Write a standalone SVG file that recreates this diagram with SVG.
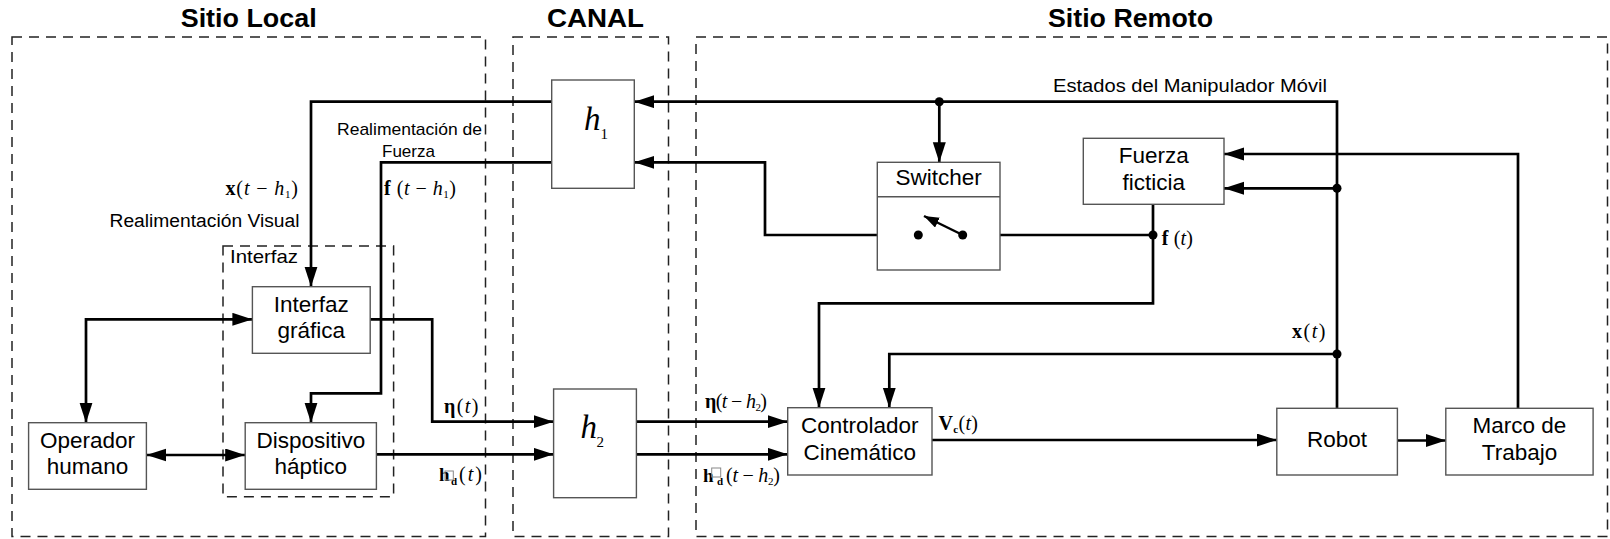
<svg xmlns="http://www.w3.org/2000/svg" width="1610" height="539" viewBox="0 0 1610 539">
<style>
.bg{fill:#fff}
.reg{fill:none;stroke:#222;stroke-width:1.5;stroke-dasharray:10 7}
.box{fill:#fff;stroke:#555;stroke-width:1.4}
.c{fill:none;stroke:#000;stroke-width:2.7}
.dot{fill:#000}
.title{font-family:"Liberation Sans",Arial,sans-serif;font-weight:bold;font-size:26px;fill:#000;text-anchor:middle}
.lbl{font-family:"Liberation Sans",Arial,sans-serif;font-size:22.5px;fill:#000;text-anchor:middle}
.sm{font-family:"Liberation Sans",Arial,sans-serif;font-size:18px;fill:#000}
.m{font-family:"Liberation Serif","Times New Roman",serif;font-size:20px;fill:#000}
.b{font-weight:bold}
.i{font-style:italic}
.tofu{fill:none;stroke:#888;stroke-width:1}
</style>
<defs>
<marker id="ar" markerUnits="userSpaceOnUse" markerWidth="20" markerHeight="14" refX="20" refY="6.5" orient="auto-start-reverse">
<path d="M0,0 L20,6.5 L0,13 z" fill="#000"/>
</marker>
<marker id="ars" markerUnits="userSpaceOnUse" markerWidth="15" markerHeight="12" refX="15" refY="5.5" orient="auto">
<path d="M0,0 L15,5.5 L0,11 z" fill="#000"/>
</marker>
</defs>
<rect class="bg" x="0" y="0" width="1610" height="539"/>

<g id="regions">
<rect class="reg" x="12" y="37" width="473.5" height="499.5"/>
<rect class="reg" x="513" y="37" width="155.5" height="499.5"/>
<rect class="reg" x="696" y="37" width="911.5" height="499.5"/>
<rect class="reg" x="223" y="246" width="170.6" height="250.7"/>
<text class="title" x="248.7" y="27" textLength="136" lengthAdjust="spacingAndGlyphs">Sitio Local</text>
<text class="title" x="595.5" y="27" textLength="97" lengthAdjust="spacingAndGlyphs">CANAL</text>
<text class="title" x="1130.5" y="27" textLength="165" lengthAdjust="spacingAndGlyphs">Sitio Remoto</text>
<text class="sm" x="230" y="263.3" style="font-size:19px" textLength="68" lengthAdjust="spacingAndGlyphs">Interfaz</text>
</g>

<g id="connectors">
<path class="c" d="M1337,408.3 L1337,101.7 L634.3,101.7" marker-end="url(#ar)"/>
<path class="c" d="M939.3,101.7 L939.3,162.3" marker-end="url(#ar)"/>
<path class="c" d="M551.7,101.7 L311,101.7 L311,286.7" marker-end="url(#ar)"/>
<path class="c" d="M551.7,162.3 L381,162.3 L381,393.3 L311,393.3 L311,422.7" marker-end="url(#ar)"/>
<path class="c" d="M918.3,235 L765,235 L765,162.3 L634.3,162.3" marker-end="url(#ar)"/>
<path class="c" d="M962.7,235 L1153,235"/>
<path class="c" d="M1153,204.3 L1153,303.3 L819,303.3 L819,407.7" marker-end="url(#ar)"/>
<path class="c" d="M1337,354 L889.3,354 L889.3,407.7" marker-end="url(#ar)"/>
<path class="c" d="M1337,188.3 L1224,188.3" marker-end="url(#ar)"/>
<path class="c" d="M1518,408.3 L1518,154 L1224,154" marker-end="url(#ar)"/>
<path class="c" d="M1397.4,440.5 L1445.8,440.5" marker-end="url(#ar)"/>
<path class="c" d="M932,440 L1276.8,440" marker-end="url(#ar)"/>
<path class="c" d="M636.4,421.7 L787.7,421.7" marker-end="url(#ar)"/>
<path class="c" d="M636.4,454.3 L787.7,454.3" marker-end="url(#ar)"/>
<path class="c" d="M370.2,319.3 L432.2,319.3 L432.2,421.7 L553.6,421.7" marker-end="url(#ar)"/>
<path class="c" d="M376.4,454.3 L553.6,454.3" marker-end="url(#ar)"/>
<path class="c" d="M252.4,319.3 L86,319.3 L86,422.7" marker-start="url(#ar)" marker-end="url(#ar)"/>
<path class="c" d="M146.4,455 L245.2,455" marker-start="url(#ar)" marker-end="url(#ar)"/>
<circle class="dot" cx="939.3" cy="101.7" r="4.5"/>
<circle class="dot" cx="1337" cy="188.3" r="4.5"/>
<circle class="dot" cx="1337" cy="354" r="4.5"/>
<circle class="dot" cx="1153" cy="235" r="4.5"/>
</g>

<g id="labels">
<text class="sm" x="1053" y="92" textLength="274" lengthAdjust="spacingAndGlyphs">Estados del Manipulador Móvil</text>
<text class="sm" x="337" y="135" style="font-size:17px" textLength="145" lengthAdjust="spacingAndGlyphs">Realimentación de</text>
<text class="sm" x="382" y="156.7" style="font-size:17px" textLength="53" lengthAdjust="spacingAndGlyphs">Fuerza</text>
<text class="sm" x="109.5" y="226.7" textLength="190" lengthAdjust="spacingAndGlyphs">Realimentación Visual</text>
<text class="m" x="225.5" y="195" textLength="72.5"><tspan class="b">x</tspan>(<tspan class="i">t</tspan> − <tspan class="i">h</tspan><tspan style="font-size:11px" dy="3">1</tspan><tspan dy="-3">)</tspan></text>
<text class="m" x="384" y="195" textLength="72"><tspan class="b">f</tspan> (<tspan class="i">t</tspan> − <tspan class="i">h</tspan><tspan style="font-size:11px" dy="3">1</tspan><tspan dy="-3">)</tspan></text>
<text class="m" x="444" y="413" textLength="34.3"><tspan class="b">η</tspan>(<tspan class="i">t</tspan>)</text>
<text class="m b" x="439" y="481" style="font-size:19px">h</text>
<rect class="tofu" x="445" y="471" width="8.3" height="9"/>
<text class="m b" x="451" y="484.5" style="font-size:11px">d</text>
<text class="m" x="459" y="481" textLength="23">(<tspan class="i">t</tspan>)</text>
<text class="m" x="705" y="407.5" textLength="62"><tspan class="b">η</tspan>(<tspan class="i">t</tspan> − <tspan class="i">h</tspan><tspan style="font-size:11px" dy="3">2</tspan><tspan dy="-3">)</tspan></text>
<text class="m b" x="703" y="481.5" style="font-size:19px">h</text>
<rect class="tofu" x="711.7" y="468" width="9" height="9"/>
<text class="m b" x="717" y="485" style="font-size:11px">d</text>
<text class="m" x="726" y="481.5" textLength="54">(<tspan class="i">t</tspan> − <tspan class="i">h</tspan><tspan style="font-size:11px" dy="3">2</tspan><tspan dy="-3">)</tspan></text>
<text class="m" x="938.6" y="430" textLength="39.4"><tspan class="b">V</tspan><tspan class="b" style="font-size:11px" dy="3">c</tspan><tspan dy="-3">(</tspan><tspan class="i">t</tspan>)</text>
<text class="m" x="1292" y="338.3" textLength="33.5"><tspan class="b">x</tspan>(<tspan class="i">t</tspan>)</text>
<text class="m" x="1161.7" y="245" textLength="31.3"><tspan class="b">f</tspan> (<tspan class="i">t</tspan>)</text>
</g>

<g id="h1">
<rect class="box" x="551.7" y="80" width="82.6" height="108.3"/>
<text class="m i" x="584" y="130.3" style="font-size:33px">h</text>
<text class="m" x="600.5" y="139.3" style="font-size:15px">1</text>
</g>

<g id="h2">
<rect class="box" x="553.6" y="389" width="82.8" height="108.7"/>
<text class="m i" x="580.5" y="438.3" style="font-size:33px">h</text>
<text class="m" x="596.5" y="447.3" style="font-size:15px">2</text>
</g>

<g id="interfaz-grafica">
<rect class="box" x="252.4" y="286.7" width="117.8" height="66.6"/>
<text class="lbl" x="311.3" y="311.7">Interfaz</text>
<text class="lbl" x="311.3" y="338.3">gráfica</text>
</g>

<g id="dispositivo-haptico">
<rect class="box" x="245.2" y="422.7" width="131.2" height="66.6"/>
<text class="lbl" x="310.8" y="448.3">Dispositivo</text>
<text class="lbl" x="310.8" y="474">háptico</text>
</g>

<g id="operador-humano">
<rect class="box" x="28.6" y="422.7" width="117.8" height="66.6"/>
<text class="lbl" x="87.5" y="448.3">Operador</text>
<text class="lbl" x="87.5" y="474">humano</text>
</g>

<g id="switcher">
<rect class="box" x="877.3" y="162.3" width="122.7" height="107.7"/>
<line x1="877.3" y1="196.7" x2="1000" y2="196.7" stroke="#555" stroke-width="1.4"/>
<text class="lbl" x="938.7" y="185">Switcher</text>
<line x1="962.7" y1="235" x2="924" y2="216" stroke="#000" stroke-width="2.5" marker-end="url(#ars)"/>
<circle class="dot" cx="918.3" cy="235" r="4.5"/>
<circle class="dot" cx="962.7" cy="235" r="4.5"/>
</g>

<g id="fuerza-ficticia">
<rect class="box" x="1083.3" y="138.3" width="140.7" height="66"/>
<text class="lbl" x="1153.7" y="163.3">Fuerza</text>
<text class="lbl" x="1153.7" y="190">ficticia</text>
</g>

<g id="controlador">
<rect class="box" x="787.7" y="407.7" width="144.3" height="67.3"/>
<text class="lbl" x="859.8" y="433.3">Controlador</text>
<text class="lbl" x="859.8" y="460">Cinemático</text>
</g>

<g id="robot">
<rect class="box" x="1276.8" y="408.3" width="120.6" height="66.7"/>
<text class="lbl" x="1337" y="446.7">Robot</text>
</g>

<g id="marco">
<rect class="box" x="1445.8" y="408.3" width="147.3" height="66.7"/>
<text class="lbl" x="1519.5" y="433.3">Marco de</text>
<text class="lbl" x="1519.5" y="460">Trabajo</text>
</g>
</svg>
